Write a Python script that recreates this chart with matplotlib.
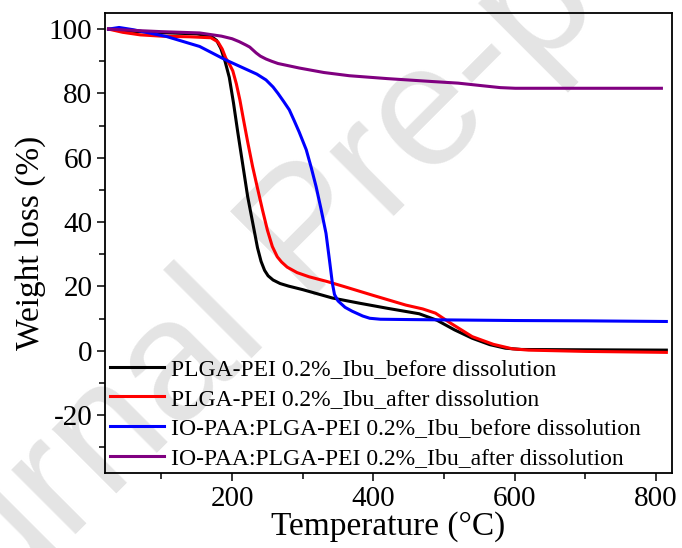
import matplotlib
matplotlib.use("Agg")
import matplotlib.pyplot as plt
from matplotlib.ticker import MultipleLocator

# TGA curves
temp_before = [25, 60, 100, 150, 170, 178, 184, 190, 196, 202, 208, 215, 222, 229, 236,
               241, 246, 251, 258, 268, 280, 300, 342, 380, 420, 465, 490, 515, 540, 565,
               587, 610, 700, 815]
wt_before = [100, 99.3, 98.9, 98.5, 97.8, 96.5, 94, 90, 85, 77, 68, 58, 48, 40, 32,
             27.8, 25, 23.3, 22, 20.9, 20.1, 19, 16.4, 14.8, 13.2, 11.5, 9.5, 6.5, 3.9,
             1.9, 0.8, 0.4, 0.3, 0.2]

temp_after = [25, 45, 70, 100, 140, 170, 180, 186, 191, 196, 201, 206, 211, 216, 222, 229,
              236, 243, 250, 257, 264, 270, 278, 292, 309, 335, 358, 400, 446, 470, 488,
              510, 540, 570, 597, 620, 700, 815]
wt_after = [100, 99, 98.2, 97.8, 97.6, 97.3, 96, 93.8, 91, 89.2, 87, 83, 78, 72, 65, 57.3,
            50.5, 43.8, 37.5, 32.4, 29.2, 27.6, 26, 24.3, 23, 21.5, 20, 17.2, 14.2, 13,
            11.7, 8.5, 4.4, 2, 0.6, 0.2, -0.2, -0.5]

temp_io_before = [25, 40, 60, 107, 154, 191, 220, 235, 248, 258, 265, 273, 281, 288, 295,
                  305, 312, 319, 326, 333, 338, 342, 345, 350, 360, 370, 385, 395, 410,
                  450, 500, 600, 700, 815]
wt_io_before = [100, 100.5, 99.8, 97.7, 94.6, 90.4, 87.5, 86, 84.2, 82, 80, 77.5, 74.9,
                71.5, 68, 62.5, 57, 51, 44, 36.5, 28, 21, 17.5, 15.5, 13.5, 12.3, 10.8,
                10.1, 9.8, 9.7, 9.6, 9.4, 9.3, 9.1]

temp_io_after = [25, 60, 100, 154, 185, 200, 210, 220, 225, 229, 234, 240, 248, 256, 265,
                 280, 295, 330, 366, 420, 483, 520, 554, 580, 601, 700, 808]
wt_io_after = [100, 99.6, 99.2, 98.8, 97.8, 97, 96.1, 95, 94.4, 93.6, 92.6, 91.6, 90.7,
               90, 89.3, 88.6, 87.9, 86.5, 85.5, 84.6, 83.7, 83.2, 82.4, 81.8, 81.6, 81.6,
               81.6]

labels = ["PLGA-PEI 0.2%_Ibu_before dissolution",
          "PLGA-PEI 0.2%_Ibu_after dissolution",
          "IO-PAA:PLGA-PEI 0.2%_Ibu_before dissolution",
          "IO-PAA:PLGA-PEI 0.2%_Ibu_after dissolution"]
colors = ["#000000", "#ff0000", "#0000ff", "#800080"]

plt.rcParams["font.family"] = ["Liberation Serif", "DejaVu Serif"]
plt.rcParams["axes.unicode_minus"] = False

fig = plt.figure(figsize=(6.82, 5.48), dpi=100)
ax = fig.add_axes([105 / 682, 1 - 473 / 548, 567 / 682, 460 / 548])
ax.set_facecolor("none")

# watermark behind the axes
fig.text(342 / 682, 1 - 268 / 548, "Journal Pre-proof", family="Liberation Sans",
         fontsize=124, color="#e4e4e4", rotation=45, rotation_mode="anchor",
         ha="center", va="baseline", zorder=-1)

series = [(temp_before, wt_before), (temp_after, wt_after),
          (temp_io_before, wt_io_before), (temp_io_after, wt_io_after)]
for (t, w), lab, c in zip(series, labels, colors):
    ax.plot(t, w, color=c, lw=2.2, label=lab, solid_joinstyle="round")

ax.set_xlim(20, 823)
ax.set_ylim(-38, 105)
ax.xaxis.set_major_locator(MultipleLocator(200))
ax.xaxis.set_minor_locator(MultipleLocator(100))
ax.yaxis.set_major_locator(MultipleLocator(20))
ax.yaxis.set_minor_locator(MultipleLocator(10))
ax.tick_params(which="both", direction="out", top=False, right=False, width=1.1)
ax.tick_params(which="major", length=6, labelsize=21, pad=3)
ax.tick_params(which="minor", length=4)
for s in ax.spines.values():
    s.set_linewidth(1.3)

ax.set_xlabel("Temperature (\u00b0C)", fontsize=24, labelpad=0)
ax.set_ylabel("Weight loss (%)", fontsize=24, labelpad=2)

ax.legend(loc="lower left", bbox_to_anchor=(0.008, 0.009), frameon=False, fontsize=17,
          handlelength=2.3, handletextpad=0.3, labelspacing=0.34, borderpad=0,
          borderaxespad=0)

fig.savefig("out.png", dpi=100)
